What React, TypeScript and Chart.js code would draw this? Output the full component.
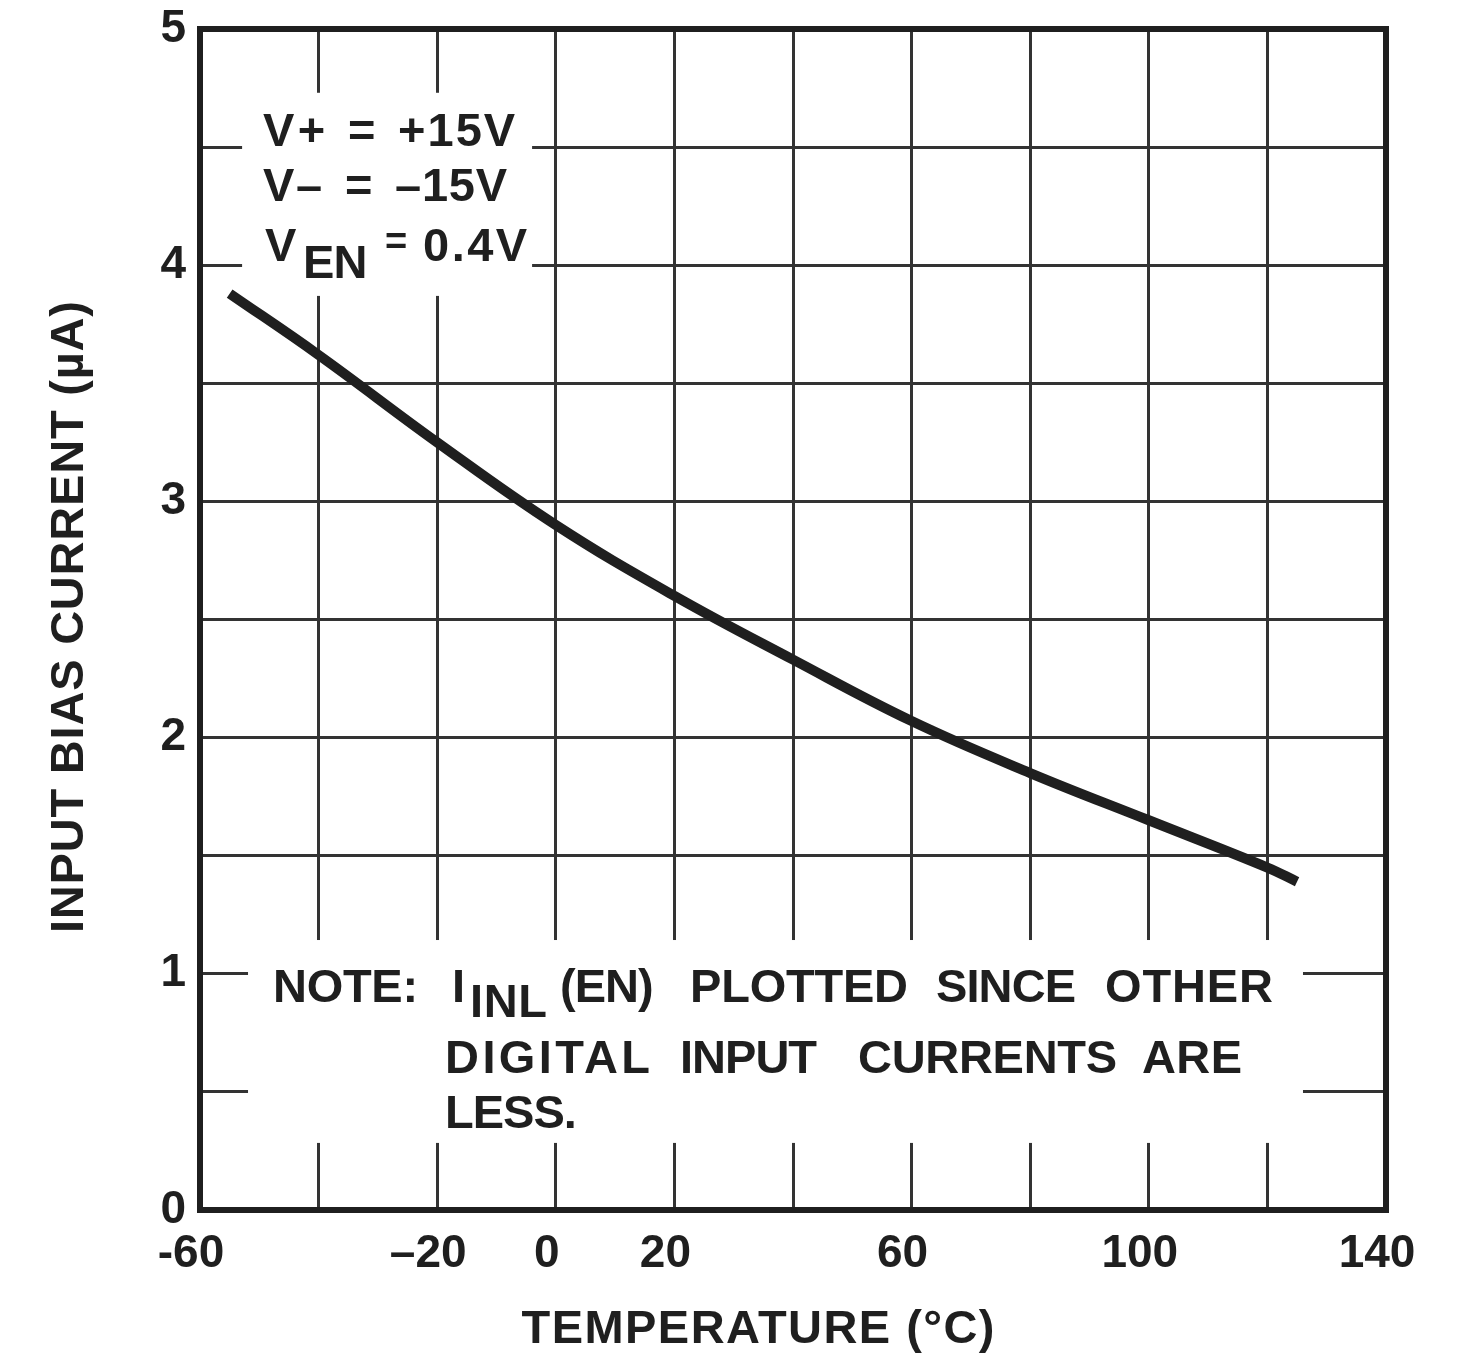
import { useEffect, useRef } from "react";
import { Chart, registerables } from "chart.js";

Chart.register(...registerables);

// Input bias current vs. temperature (enable input, V+ = +15V, V- = -15V)
const TEMPERATURE_C = [-55, -40, -20, 0, 20, 40, 60, 80, 100, 120, 125];
const BIAS_CURRENT_UA = [3.88, 3.62, 3.25, 2.9, 2.6, 2.33, 2.07, 1.85, 1.65, 1.45, 1.39];

const X_TICK_VALUES = [-60, -20, 0, 20, 60, 100, 140];
const X_TICK_LABELS = ["-60", "–20", "0", "20", "60", "100", "140"];
const Y_TICK_VALUES = [0, 1, 2, 3, 4, 5];
const Y_TICK_LABELS = ["0", "1", "2", "3", "4", "5"];

const X_TITLE = "TEMPERATURE (°C)";
const Y_TITLE = "INPUT BIAS CURRENT (µA)";

const FONT = '"Liberation Sans", Arial, Helvetica, sans-serif';
const INK = "#1f1f1f";
const W = 1474;
const H = 1363;

const font = (size: number) => `bold ${size}px ${FONT}`;

// Draws a word starting at x, spreading its letters to span roughly the given width.
function fitText(
  ctx: CanvasRenderingContext2D,
  s: string,
  x: number,
  y: number,
  width: number,
  size = 47,
  align: "left" | "center" = "left"
) {
  ctx.font = font(size);
  (ctx as any).letterSpacing = "0px";
  const natural = ctx.measureText(s).width;
  const n = s.length;
  const spacing = n > 1 ? Math.max(-1, (width - natural) / (n - 1)) : 0;
  (ctx as any).letterSpacing = `${spacing}px`;
  const drawn = natural + spacing * (n - 1);
  const startX = align === "center" ? x - drawn / 2 : x;
  ctx.textAlign = "left";
  ctx.fillText(s, startX, y);
  (ctx as any).letterSpacing = "0px";
}

const notesPlugin = {
  id: "datasheetNotes",
  beforeDatasetsDraw(chart: any) {
    const { ctx, chartArea: a, scales } = chart;
    const xs = scales.x;
    const ys = scales.y;
    const px = (t: number) => xs.getPixelForValue(t);
    const py = (v: number) => ys.getPixelForValue(v);

    ctx.save();

    // white panels that break the grid behind the notes
    ctx.fillStyle = "#ffffff";
    const panel = (t0: number, t1: number, v0: number, v1: number) => {
      const x0 = px(t0);
      const y0 = py(v0);
      ctx.fillRect(x0, y0, px(t1) - x0, py(v1) - y0);
    };
    panel(-52.9, -4.0, 4.73, 3.87);
    panel(-51.9, 126.0, 1.143, 0.284);

    // plot frame
    ctx.strokeStyle = INK;
    ctx.lineWidth = 6;
    ctx.strokeRect(a.left, a.top, a.right - a.left, a.bottom - a.top);

    ctx.fillStyle = INK;
    ctx.textBaseline = "alphabetic";
    const word = (s: string, x: number, y: number, w: number, size = 47) =>
      fitText(ctx, s, x, y, w, size);

    // supply conditions
    const cx = px(-52.9);
    const cy = py(4.73);
    word("V+", cx + 21, cy + 53, 62);
    word("=", cx + 106, cy + 53, 25);
    word("+15V", cx + 156, cy + 53, 117);
    word("V–", cx + 21, cy + 108, 59);
    word("=", cx + 103, cy + 108, 25);
    word("–15V", cx + 153, cy + 108, 112);
    word("V", cx + 23, cy + 168, 32);
    word("EN", cx + 61, cy + 185, 64);
    word("=", cx + 143, cy + 161, 23, 38);
    word("0.4V", cx + 181, cy + 168, 104);

    // footnote
    const nx = px(-51.9);
    const ny = py(1.143);
    word("NOTE:", nx + 25, ny + 62, 145);
    word("I", nx + 204, ny + 62, 10);
    word("INL", nx + 222, ny + 77, 77);
    word("(EN)", nx + 312, ny + 62, 88);
    word("PLOTTED", nx + 442, ny + 62, 218);
    word("SINCE", nx + 688, ny + 62, 140);
    word("OTHER", nx + 857, ny + 62, 168);
    word("DIGITAL", nx + 197, ny + 133, 205);
    word("INPUT", nx + 432, ny + 133, 133);
    word("CURRENTS", nx + 610, ny + 133, 259);
    word("ARE", nx + 894, ny + 133, 100);
    word("LESS.", nx + 197, ny + 188, 122);

    ctx.restore();
  },
  afterDraw(chart: any) {
    const { ctx, chartArea: a } = chart;
    ctx.save();
    ctx.fillStyle = INK;
    ctx.textBaseline = "middle";
    fitText(ctx, X_TITLE, a.left + 558, a.bottom + 120, 473, 47, "center");
    ctx.translate(70, 617);
    ctx.rotate(-Math.PI / 2);
    fitText(ctx, Y_TITLE, 0, 0, 632, 47, "center");
    ctx.restore();
  },
};

export default function App() {
  const canvasRef = useRef<HTMLCanvasElement | null>(null);

  useEffect(() => {
    document.body.style.margin = "0";
    const canvas = canvasRef.current;
    if (!canvas) return;

    const chart = new Chart(canvas, {
      type: "line",
      data: {
        datasets: [
          {
            label: "I_INL (EN)",
            data: TEMPERATURE_C.map((t, i) => ({ x: t, y: BIAS_CURRENT_UA[i] })),
            borderColor: INK,
            borderWidth: 10,
            borderCapStyle: "butt",
            pointRadius: 0,
            fill: false,
            tension: 0.4,
          },
        ],
      },
      options: {
        animation: false,
        responsive: false,
        devicePixelRatio: 1,
        layout: { padding: { top: 29, right: 88, bottom: 0, left: 0 } },
        plugins: {
          legend: { display: false },
          tooltip: { enabled: false },
        },
        scales: {
          x: {
            type: "linear",
            min: -60,
            max: 140,
            afterFit: (scale: any) => {
              scale.height = H - 1210;
              scale.paddingLeft = 0;
              scale.paddingRight = 0;
            },
            afterBuildTicks: (scale: any) => {
              const ticks = [];
              for (let v = -60; v <= 140; v += 20) ticks.push({ value: v });
              scale.ticks = ticks;
            },
            ticks: {
              autoSkip: false,
              maxRotation: 0,
              padding: 17,
              labelOffset: -9,
              color: INK,
              font: { family: FONT, size: 46, weight: "bold" },
              callback: (v: any) => {
                const i = X_TICK_VALUES.indexOf(Number(v));
                return i >= 0 ? X_TICK_LABELS[i] : "";
              },
            },
            grid: { color: "#333333", lineWidth: 3, drawTicks: false },
            border: { display: false },
          },
          y: {
            type: "linear",
            min: 0,
            max: 5,
            afterFit: (scale: any) => {
              scale.width = 200;
              scale.paddingTop = 0;
              scale.paddingBottom = 0;
            },
            afterBuildTicks: (scale: any) => {
              const ticks = [];
              for (let k = 0; k <= 10; k++) ticks.push({ value: k / 2 });
              scale.ticks = ticks;
            },
            ticks: {
              autoSkip: false,
              padding: 14,
              color: INK,
              font: { family: FONT, size: 46, weight: "bold" },
              callback: (v: any) => {
                const i = Y_TICK_VALUES.indexOf(Number(v));
                return i >= 0 ? Y_TICK_LABELS[i] : "";
              },
            },
            grid: { color: "#333333", lineWidth: 3, drawTicks: false },
            border: { display: false },
          },
        },
      },
      plugins: [notesPlugin],
    } as any);

    return () => chart.destroy();
  }, []);

  return (
    <div style={{ width: W, height: H, background: "#ffffff" }}>
      <canvas ref={canvasRef} width={W} height={H} style={{ display: "block" }} />
    </div>
  );
}
